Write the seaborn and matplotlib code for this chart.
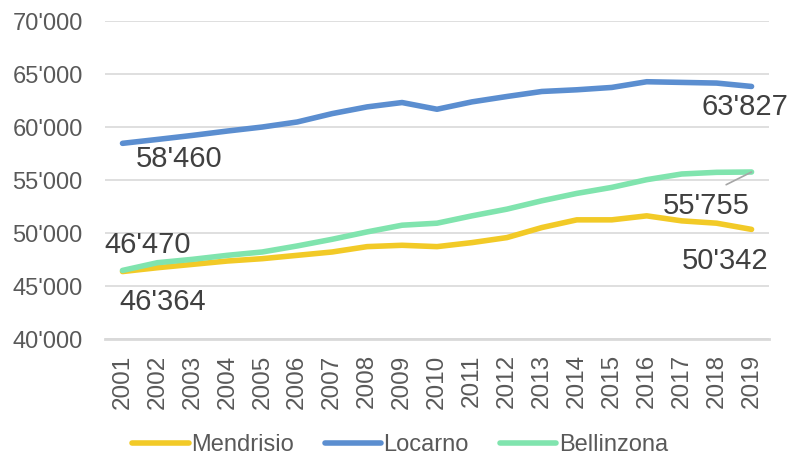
import pandas as pd
import matplotlib
matplotlib.use("Agg")
import matplotlib.pyplot as plt
from matplotlib.ticker import FuncFormatter
import seaborn as sns

years = list(range(2001, 2020))
mendrisio = [46364, 46727, 47043, 47358, 47580, 47895, 48211, 48716, 48843, 48716,
             49095, 49569, 50516, 51243, 51243, 51620, 51147, 50927, 50342]
locarno = [58460, 58829, 59209, 59620, 60000, 60475, 61266, 61899, 62310, 61677,
           62373, 62880, 63354, 63513, 63734, 64272, 64209, 64146, 63827]
bellinzona = [46470, 47200, 47516, 47895, 48211, 48780, 49410, 50105, 50737, 50927,
              51620, 52253, 53042, 53737, 54305, 55032, 55568, 55726, 55755]

series_names = ["Mendrisio", "Locarno", "Bellinzona"]
colors = ["#F2CA27", "#5B8ED0", "#80E4AE"]


def swiss(v, pos=None):
    # 70'000 style thousands separator
    return f"{int(round(v)):,}".replace(",", "'")


# long-form table for seaborn
rows = []
for name, vals in zip(series_names, [mendrisio, locarno, bellinzona]):
    for y, v in zip(years, vals):
        rows.append({"Anno": y, "Valore": v, "Comune": name})
df = pd.DataFrame(rows)

sns.set_theme(style="white")
plt.rcParams["font.family"] = ["Liberation Sans", "DejaVu Sans"]

fig = plt.figure(figsize=(7.92, 4.59), dpi=100)
ax = fig.add_axes([0.1326, 0.2614, 0.8384, 0.6928])

sns.lineplot(data=df, x="Anno", y="Valore", hue="Comune", hue_order=series_names,
             palette=colors, linewidth=4.0, solid_capstyle="round", legend=False, ax=ax)

ax.set_ylim(40000, 70000)
ax.set_xlim(2000.5, 2019.5)
ax.set_yticks(range(40000, 70001, 5000))
ax.set_xticks(years)
ax.set_xticklabels([str(y) for y in years], rotation=90)
ax.yaxis.set_major_formatter(FuncFormatter(swiss))
ax.grid(axis="y", color="#D9D9D9", linewidth=1.2)
ax.set_axisbelow(True)
for s in ["top", "right", "left"]:
    ax.spines[s].set_visible(False)
ax.spines["bottom"].set_color("#D9D9D9")
ax.spines["bottom"].set_linewidth(2)
ax.tick_params(axis="y", length=0, pad=16, labelsize=17, labelcolor="#595959")
ax.tick_params(axis="x", length=0, pad=11, labelsize=17.5, labelcolor="#595959")
ax.set_xlabel("")
ax.set_ylabel("")

# data labels at first and last year
lab = dict(fontsize=21, color="#404040", ha="center", va="center", textcoords="offset points")
ax.annotate(swiss(locarno[0]), (years[0], locarno[0]), xytext=(41, -11.5), **lab)
ax.annotate(swiss(locarno[-1]), (years[-1], locarno[-1]), xytext=(-4.5, -15), **lab)
ax.annotate(swiss(bellinzona[0]), (years[0], bellinzona[0]), xytext=(18, 18), **lab)
ax.annotate(swiss(mendrisio[0]), (years[0], mendrisio[0]), xytext=(28.8, -21.8), **lab)
ax.annotate(swiss(mendrisio[-1]), (years[-1], mendrisio[-1]), xytext=(-18.7, -22.6), **lab)
ax.annotate(swiss(bellinzona[-1]), (years[-1], bellinzona[-1]), xytext=(-32.4, -24.7),
            arrowprops=dict(arrowstyle="-", color="#A6A6A6", lw=1.2,
                            relpos=(0.55, 1.0), shrinkA=7, shrinkB=0), **lab)

handles = [plt.Line2D([], [], color=c, linewidth=4.0, solid_capstyle="round") for c in colors]
fig.legend(handles, series_names, loc="center", bbox_to_anchor=(0.505, 0.03), ncol=3,
           frameon=False, fontsize=17, handlelength=2.4, handletextpad=0.1,
           columnspacing=1.3, labelcolor="#595959")

plt.savefig("out.png", dpi=100)
